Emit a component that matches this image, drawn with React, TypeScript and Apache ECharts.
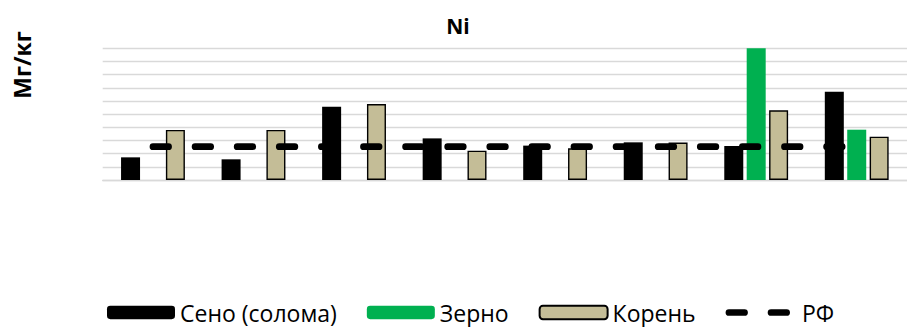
import React, { useEffect, useRef } from "react";
import * as echarts from "echarts";

const categories = ["1", "2", "3", "4", "5", "6", "7", "8"];
const hayValues = [1.72, 1.57, 5.57, 3.16, 2.61, 2.86, 2.58, 6.71];
const grainValues = [null, null, null, null, null, null, 11.5, 3.82];
const rootValues = [3.8, 3.8, 5.77, 2.23, 2.41, 2.84, 5.29, 3.29];
const rfValues = [2.53, 2.53, 2.53, 2.53, 2.53, 2.53, 2.53, 2.53];
const seriesNames = ["Сено (солома)", "Зерно", "Корень", "РФ"];
const titleText = "Ni";
const yAxisTitle = "Мг/кг";

const FONT = "'Open Sans', 'Noto Sans', sans-serif";

export default function App() {
  const ref = useRef<HTMLDivElement>(null);
  useEffect(() => {
    if (!ref.current) return;
    const chart = echarts.init(ref.current, undefined, { renderer: "svg" });
    chart.setOption({
      animation: false,
      backgroundColor: "#ffffff",
      textStyle: { fontFamily: FONT },
      graphic: [
        {
          type: "text",
          x: 458,
          y: 26,
          style: {
            text: titleText,
            fontFamily: FONT,
            fontWeight: "bold",
            fontSize: 21,
            fill: "#000",
            align: "center",
            verticalAlign: "middle",
          },
        },
        {
          type: "text",
          x: 22,
          y: 65,
          rotation: Math.PI / 2,
          style: {
            text: yAxisTitle,
            fontFamily: FONT,
            fontWeight: "bold",
            fontSize: 23,
            fill: "#000",
            align: "center",
            verticalAlign: "middle",
          },
        },
      ],
      grid: { left: 102.7, top: 48.3, width: 810.5, height: 131.7, containLabel: false },
      xAxis: {
        type: "category",
        data: categories,
        axisLabel: { show: false },
        axisTick: { show: false },
        axisLine: { show: true, lineStyle: { color: "#d9d9d9", width: 1.3 } },
      },
      yAxis: {
        type: "value",
        min: 0,
        max: 10,
        interval: 1,
        axisLabel: { show: false },
        axisLine: { show: false },
        axisTick: { show: false },
        splitLine: { show: true, lineStyle: { color: "#d9d9d9", width: 1.3 } },
      },
      legend: {
        left: 102,
        top: 296,
        itemWidth: 68,
        itemHeight: 13.3,
        itemGap: 30,
        textStyle: { fontFamily: FONT, fontSize: 23, color: "#000" },
        lineStyle: { width: 6.7, type: [15.6, 26.5], cap: "round", color: "#000" },
        data: seriesNames,
      },
      series: [
        {
          name: seriesNames[0],
          type: "bar",
          data: hayValues,
          barWidth: 19,
          barGap: "18%",
          itemStyle: { color: "#000000" },
        },
        {
          name: seriesNames[1],
          type: "bar",
          data: grainValues,
          barWidth: 19,
          barGap: "18%",
          itemStyle: { color: "#00b050" },
        },
        {
          name: seriesNames[2],
          type: "bar",
          data: rootValues,
          barWidth: 19,
          barGap: "18%",
          itemStyle: { color: "#c4bd97", borderColor: "#000", borderWidth: 1.4 },
        },
        {
          name: seriesNames[3],
          type: "line",
          data: rfValues,
          symbol: "none",
          itemStyle: { color: "rgba(0,0,0,0)", borderWidth: 0 },
          lineStyle: { color: "#000", width: 6.7, type: [15.6, 26.5], cap: "round" },
          z: 5,
        },
      ],
    });
    return () => chart.dispose();
  }, []);
  return (
    <div
      ref={ref}
      style={{ position: "fixed", left: 0, top: 0, width: 907, height: 327 }}
    />
  );
}
